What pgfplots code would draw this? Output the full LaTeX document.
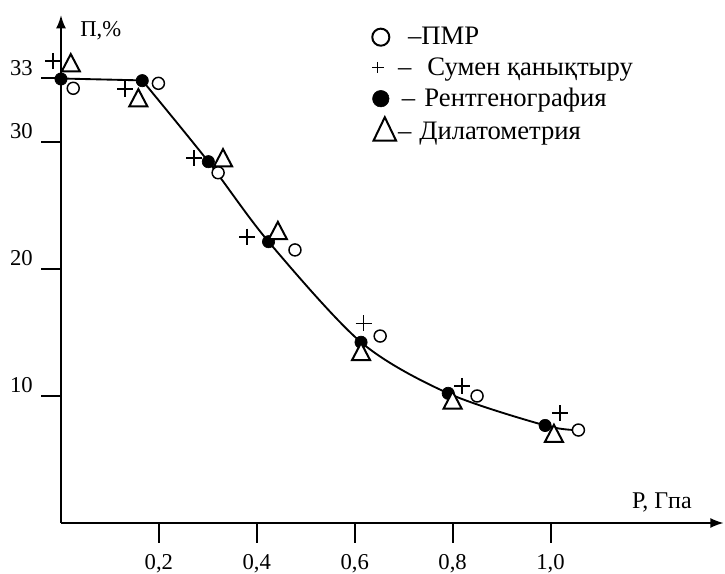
\documentclass[border=0pt]{standalone}
\usepackage{pgfplots}
\pgfplotsset{compat=1.18}
\usepackage{fontspec}
\setmainfont{Liberation Serif}
\usetikzlibrary{arrows.meta}
\begin{document}
\begin{tikzpicture}
\path[use as bounding box] (-45.75pt,-38.25pt) rectangle (498pt,392.25pt);
\begin{axis}[
  anchor=south west, at={(0pt,0pt)},
  x=367.125pt, y=9.525pt,
  xmin=0, xmax=1.354, ymin=0, ymax=40,
  axis lines=left,
  axis line style={line width=1.5pt, -{Latex[length=10pt,width=7.5pt]}},
  clip=false,
  xtick={0.2,0.4,0.6,0.8,1.0},
  xticklabels={{0,2},{0,4},{0,6},{0,8},{1,0}},
  ytick={10,20,30,35},
  yticklabels={10,20,30,33},
  tick align=outside,
  major tick length=15pt,
  tick style={line width=1.5pt, black},
  xticklabel style={font=\fontsize{17}{20}\selectfont, anchor=north, inner sep=0pt, yshift=-8pt},
  yticklabel style={font=\fontsize{17}{20}\selectfont, anchor=south east, inner sep=0pt, xshift=-6pt, yshift=2pt},
  legend style={at={(axis cs:0.6216,39.25)}, anchor=north west, draw=none, fill=none,
    inner sep=0pt, row sep=4.2pt, column sep=-5.25pt,
    font=\fontsize{20}{24}\selectfont, nodes={inner sep=2pt, text depth=0.15em}},
  legend cell align=left,
  legend image code/.code={\path (-9pt,-9pt) (13pt,9pt); \draw[#1] plot coordinates {(0pt,0pt)};},
]
% curve
\addplot[forget plot, line width=1.4pt, sharp plot] coordinates {(0,35.0) (0.166,34.85)};
\addplot[forget plot, line width=1.4pt, smooth, tension=0.5] coordinates {
  (0.166,34.85) (0.301,28.45) (0.424,22.15) (0.613,14.23) (0.791,10.21) (0.989,7.68) (1.057,7.32)};
% ПМР (open circles)
\addplot[forget plot, only marks, mark=*, mark size=4.5pt, mark options={draw=black, fill=white, line width=1.1pt}] coordinates {
  (0.025,34.23) (0.199,34.62) (0.321,27.58) (0.478,21.50) (0.652,14.72) (0.850,10.00) (1.057,7.32)};
% Сумен қанықтыру (plus)
\addplot[forget plot, only marks, mark=+, mark size=6pt, mark options={draw=black, line width=1.25pt}] coordinates {
  (-0.016,36.38) (0.131,34.15) (0.272,28.72) (0.380,22.54) (0.618,15.72) (0.819,10.79) (1.019,8.64)};
% Рентгенография (filled circles)
\addplot[forget plot, only marks, mark=*, mark size=4.6pt, mark options={draw=black, fill=black, line width=0.5pt}] coordinates {
  (0.000,34.96) (0.166,34.83) (0.301,28.45) (0.424,22.15) (0.613,14.23) (0.791,10.21) (0.989,7.68)};
% Дилатометрия (triangles)
\addplot[forget plot, only marks, mark=triangle*, mark size=7.8pt, mark options={draw=black, fill=white, line width=1.5pt, yscale=1.1}] coordinates {
  (0.020,36.02) (0.158,33.26) (0.331,28.54) (0.443,22.81) (0.613,13.28) (0.800,9.46) (1.007,6.84)};
% legend
\addlegendimage{only marks, mark=*, mark size=6.4pt, mark options={draw=black, fill=white, line width=1.5pt}}
\addlegendentry{\hspace{7.5pt}–ПМР}
\addlegendimage{only marks, mark=+, mark size=4.3pt, mark options={draw=black, line width=1pt}, xshift=-2.25pt}
\addlegendentry{–\hspace{12pt}Сумен қанықтыру}
\addlegendimage{only marks, mark=*, mark size=6.2pt, mark options={draw=black, fill=black, line width=0.4pt}}
\addlegendentry{\hspace{2.8pt}–\hspace{7pt}Рентгенография}
\addlegendimage{only marks, mark=triangle*, mark size=9.75pt, mark options={draw=black, fill=white, line width=1.5pt, yscale=1.2}, xshift=3pt, yshift=-1pt}
\addlegendentry{–\hspace{6pt}Дилатометрия}
\node[anchor=base west, font=\fontsize{18}{21}\selectfont, inner sep=0pt] at (axis cs:1.166,1.16) {Р, Гпа};
\node[anchor=base west, font=\fontsize{17}{20}\selectfont, inner sep=0pt] at (axis cs:0.0388,38.29) {П,\%};
\end{axis}
\end{tikzpicture}
\end{document}
